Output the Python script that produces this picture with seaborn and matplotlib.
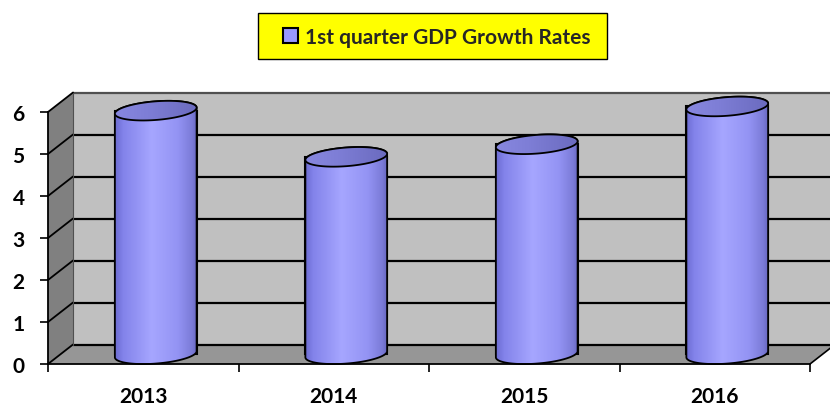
import numpy as np
import pandas as pd
import matplotlib
matplotlib.use("Agg")
import matplotlib.pyplot as plt
import seaborn as sns
from matplotlib.patches import Polygon, Rectangle
from matplotlib.colors import LinearSegmentedColormap

# ---- data ----
years = ["2013", "2014", "2015", "2016"]
growth = [5.8, 4.7, 5.0, 5.9]
series_label = "1st quarter GDP Growth Rates"
yticks = [0, 1, 2, 3, 4, 5, 6]

sns.set_theme(style="white")
plt.rcParams["font.family"] = ["Lato", "DejaVu Sans"]
plt.rcParams["font.weight"] = "bold"

W, H, DPI = 830, 406, 100
fig = plt.figure(figsize=(W / DPI, H / DPI), dpi=DPI)

# front plane in pixels
px_l, px_r, py0, py6 = 48, 810, 365, 113
xmin, xmax, ymin, ymax = -0.5, 3.5, 0, 6
sx = (px_r - px_l) / (xmax - xmin)  # px per x unit
sy = (py0 - py6) / (ymax - ymin)    # px per y unit
dx = 25 / sx
dy = 19.5 / sy

# axes covering the whole figure so nothing needs clip_on=False
ax = fig.add_axes([0, 0, 1, 1])
XL = (xmin - px_l / sx, xmax + (W - px_r) / sx)
YL = (ymin - (H - py0) / sy, ymax + py6 / sy)

df = pd.DataFrame({"year": years, "growth": growth})
sns.barplot(data=df, x="year", y="growth", color="#9999ff", width=82 / sx,
            edgecolor="black", linewidth=1.5, saturation=1, label=series_label,
            ax=ax, zorder=2)
handles, labels = ax.get_legend_handles_labels()
if ax.get_legend() is not None:
    ax.get_legend().remove()

# ---- 3D box: walls and floor ----
wall_kw = dict(linewidth=0)
ax.add_patch(Polygon([(xmin + dx, dy), (xmax + dx + 1, dy), (xmax + dx + 1, ymax + dy),
                      (xmin + dx, ymax + dy)], closed=True, facecolor="#c0c0c0", zorder=0.1, **wall_kw))
ax.add_patch(Polygon([(xmin, 0), (xmin + dx, dy), (xmin + dx, ymax + dy), (xmin, ymax)],
                     closed=True, facecolor="#808080", zorder=0.2, **wall_kw))
ax.add_patch(Polygon([(xmin, 0), (xmax, 0), (xmax + dx, dy), (xmin + dx, dy)],
                     closed=True, facecolor="#969696", zorder=0.3, **wall_kw))

for k in yticks:
    col = "#505050" if k == ymax else "black"
    ax.plot([xmin + dx, xmax + dx + 1], [k + dy, k + dy], color=col, lw=1.6,
            zorder=0.5, solid_capstyle="butt")
    ax.plot([xmin, xmin + dx], [k, k + dy], color="black", lw=1.3, zorder=0.5)
ax.plot([xmin + dx, xmin + dx], [dy, ymax + dy], color="#505050", lw=0.8, zorder=0.5)
ax.plot([xmax, xmax + dx], [0, dy], color="black", lw=1.2, zorder=0.5)

# ---- cylinders built from the seaborn bars ----
a_px, b_px, theta = 41.0, 9.3, np.deg2rad(4.5)


def ellipse_pts(cx, cy, t):
    xp = a_px * np.cos(t) * np.cos(theta) - b_px * np.sin(t) * np.sin(theta)
    yp = a_px * np.cos(t) * np.sin(theta) + b_px * np.sin(t) * np.cos(theta)
    return cx + xp / sx, cy + yp / sy


body_cmap = LinearSegmentedColormap.from_list(
    "body", [(0.0, "#6666cc"), (0.12, "#8383ea"), (0.45, "#a6a6ff"),
             (0.75, "#9494f4"), (0.92, "#7b7bd8"), (1.0, "#6060b8")])
top_cmap = LinearSegmentedColormap.from_list(
    "top", [(0.0, "#8888e0"), (0.4, "#7e7ed6"), (1.0, "#6a6abe")])
grad = np.tile(np.linspace(0, 1, 256), (4, 1))

for bar in ax.patches[:len(years)]:
    w = bar.get_width()
    x0 = bar.get_x() + dx / 2
    h = bar.get_height()
    bar.set_x(x0)
    bar.set_y(dy / 2)
    cx = x0 + w / 2
    cb, ct = dy / 2, h + dy / 2
    t_low = np.linspace(np.pi, 2 * np.pi, 80)
    t_up = np.linspace(0, np.pi, 80)
    bxs, bys = ellipse_pts(cx, cb, t_low)
    txs, tys = ellipse_pts(cx, ct, t_up)
    verts = np.column_stack([np.r_[bxs, txs], np.r_[bys, tys]])
    ax.add_patch(Polygon(verts, closed=True, facecolor="none", edgecolor="black", lw=1.3,
                         zorder=3))
    im = ax.imshow(grad, extent=[cx - w / 2 - 0.01, cx + w / 2 + 0.01, cb - 0.3, ct + 0.3],
                   aspect="auto", cmap=body_cmap, vmin=0, vmax=1, zorder=2.5,
                   interpolation="nearest")
    im.set_clip_path(Polygon(verts, closed=True, transform=ax.transData))
    t_all = np.linspace(0, 2 * np.pi, 160)
    exs, eys = ellipse_pts(cx, ct, t_all)
    tverts = np.column_stack([exs, eys])
    im2 = ax.imshow(grad, extent=[cx - w / 2 - 0.01, cx + w / 2 + 0.01, ct - 0.4, ct + 0.4],
                    aspect="auto", cmap=top_cmap, vmin=0, vmax=1, zorder=3.2,
                    interpolation="nearest")
    im2.set_clip_path(Polygon(tverts, closed=True, transform=ax.transData))
    ax.add_patch(Polygon(tverts, closed=True, facecolor="none", edgecolor="black",
                         lw=1.3, zorder=3.3))

# ---- axes ----
ax.set_xlim(*XL)
ax.set_ylim(*YL)
ax.set_facecolor("none")
for s in ["top", "right"]:
    ax.spines[s].set_visible(False)
ax.spines["left"].set_position(("data", xmin))
ax.spines["left"].set_bounds(ymin, ymax)
ax.spines["bottom"].set_position(("data", ymin))
ax.spines["bottom"].set_bounds(xmin, xmax)
for s in ["left", "bottom"]:
    ax.spines[s].set_color("black")
    ax.spines[s].set_linewidth(1.3)
    ax.spines[s].set_zorder(4)
ax.set_xlabel("")
ax.set_ylabel("")
ax.set_yticks(yticks)
ax.set_xticks(range(len(years)))
ax.set_xticklabels(years)
ax.set_xticks(np.arange(xmin, xmax + 0.01, 1.0), minor=True)
ax.tick_params(axis="x", which="major", length=0, pad=16, labelsize=15)
ax.tick_params(axis="x", which="minor", length=5.5, width=1.2, color="black", direction="out", bottom=True)
ax.tick_params(axis="y", which="major", length=5.8, width=1.2, color="black", pad=11,
               labelsize=15, direction="out", left=True)
for lab in ax.get_xticklabels() + ax.get_yticklabels():
    lab.set_fontweight("bold")
    lab.set_color("black")
ax.grid(False)

# ---- legend box ----
fig.patches.append(Rectangle((258 / W, 1 - 60 / H), (607 - 258) / W, 46 / H,
                             transform=fig.transFigure, facecolor="#ffff00",
                             edgecolor="black", lw=1.0, zorder=5))
leg = fig.legend(handles[:1], labels[:1], loc="center",
                 bbox_to_anchor=(437 / W, 1 - 38 / H), bbox_transform=fig.transFigure,
                 frameon=False, prop={"weight": "bold", "size": 15},
                 handlelength=0.7, handleheight=0.7, handletextpad=0.35, borderpad=0)
leg.set_zorder(6)

fig.savefig("out.png", dpi=DPI)
